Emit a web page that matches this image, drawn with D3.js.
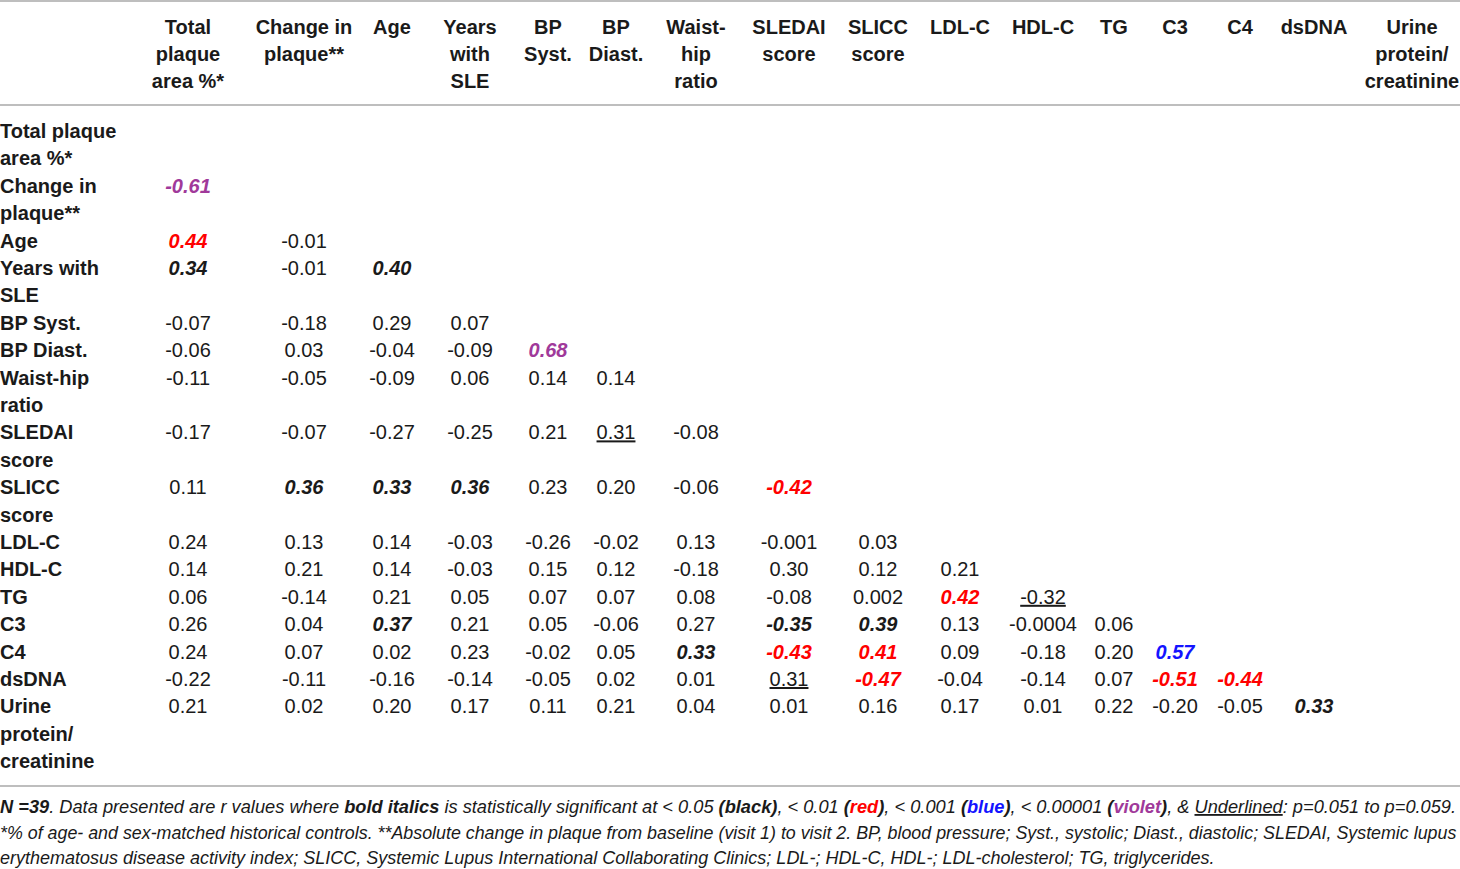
<!DOCTYPE html>
<html>
<head>
<meta charset="utf-8">
<script src="https://cdn.jsdelivr.net/npm/d3@7"></script>
<style>
  body { margin: 0; background: #fff; }
  svg text { font-family: "Liberation Sans", Arial, Helvetica, sans-serif; }
</style>
</head>
<body>
<div id="table"></div>
<script>
// column headers (each entry = lines of the header cell)
var colLabels = [
    ["Total", "plaque", "area %*"],
    ["Change in", "plaque**"],
    ["Age"],
    ["Years", "with", "SLE"],
    ["BP", "Syst."],
    ["BP", "Diast."],
    ["Waist-", "hip", "ratio"],
    ["SLEDAI", "score"],
    ["SLICC", "score"],
    ["LDL-C"],
    ["HDL-C"],
    ["TG"],
    ["C3"],
    ["C4"],
    ["dsDNA"],
    ["Urine", "protein/", "creatinine"]
];

var rowLabels = [
    ["Total plaque", "area %*"],
    ["Change in", "plaque**"],
    ["Age"],
    ["Years with", "SLE"],
    ["BP Syst."],
    ["BP Diast."],
    ["Waist-hip", "ratio"],
    ["SLEDAI", "score"],
    ["SLICC", "score"],
    ["LDL-C"],
    ["HDL-C"],
    ["TG"],
    ["C3"],
    ["C4"],
    ["dsDNA"],
    ["Urine", "protein/", "creatinine"]
];

// r values, lower triangle
var rValues = [
    [],
    ["-0.61"],
    ["0.44", "-0.01"],
    ["0.34", "-0.01", "0.40"],
    ["-0.07", "-0.18", "0.29", "0.07"],
    ["-0.06", "0.03", "-0.04", "-0.09", "0.68"],
    ["-0.11", "-0.05", "-0.09", "0.06", "0.14", "0.14"],
    ["-0.17", "-0.07", "-0.27", "-0.25", "0.21", "0.31", "-0.08"],
    ["0.11", "0.36", "0.33", "0.36", "0.23", "0.20", "-0.06", "-0.42"],
    ["0.24", "0.13", "0.14", "-0.03", "-0.26", "-0.02", "0.13", "-0.001", "0.03"],
    ["0.14", "0.21", "0.14", "-0.03", "0.15", "0.12", "-0.18", "0.30", "0.12", "0.21"],
    ["0.06", "-0.14", "0.21", "0.05", "0.07", "0.07", "0.08", "-0.08", "0.002", "0.42", "-0.32"],
    ["0.26", "0.04", "0.37", "0.21", "0.05", "-0.06", "0.27", "-0.35", "0.39", "0.13", "-0.0004", "0.06"],
    ["0.24", "0.07", "0.02", "0.23", "-0.02", "0.05", "0.33", "-0.43", "0.41", "0.09", "-0.18", "0.20", "0.57"],
    ["-0.22", "-0.11", "-0.16", "-0.14", "-0.05", "0.02", "0.01", "0.31", "-0.47", "-0.04", "-0.14", "0.07", "-0.51", "-0.44"],
    ["0.21", "0.02", "0.20", "0.17", "0.11", "0.21", "0.04", "0.01", "0.16", "0.17", "0.01", "0.22", "-0.20", "-0.05", "0.33"]
];

// significance: "" none, k p<0.05, r p<0.01, b p<0.001, v p<0.00001, u underlined (p=0.051-0.059)
var sigCodes = [
    [],
    ["v"],
    ["r", ""],
    ["k", "", "k"],
    ["", "", "", ""],
    ["", "", "", "", "v"],
    ["", "", "", "", "", ""],
    ["", "", "", "", "", "u", ""],
    ["", "k", "k", "k", "", "", "", "r"],
    ["", "", "", "", "", "", "", "", ""],
    ["", "", "", "", "", "", "", "", "", ""],
    ["", "", "", "", "", "", "", "", "", "r", "u"],
    ["", "", "k", "", "", "", "", "k", "k", "", "", ""],
    ["", "", "", "", "", "", "k", "r", "r", "", "", "", "b"],
    ["", "", "", "", "", "", "", "u", "r", "", "", "", "r", "r"],
    ["", "", "", "", "", "", "", "", "", "", "", "", "", "", "k"]
];

var footLines = [
    [["N =39", "bi"], [". Data presented are r values where ", "i"], ["bold italics", "bi"],
     [" is statistically significant at < 0.05 ", "i"], ["(black)", "bi"], [", < 0.01 ", "i"],
     ["(", "bi"], ["red", "bi", "#ff0000"], [")", "bi"], [", < 0.001 ", "i"],
     ["(", "bi"], ["blue", "bi", "#1414ff"], [")", "bi"], [", < 0.00001 ", "i"],
     ["(", "bi"], ["violet", "bi", "#a0399a"], [")", "bi"], [", & ", "i"],
     ["Underlined", "iu"], [": p=0.051 to p=0.059.", "i"]],
    [["*% of age- and sex-matched historical controls. **Absolute change in plaque from baseline (visit 1) to visit 2. BP, blood pressure; Syst., systolic; Diast., diastolic; SLEDAI, Systemic lupus", "i"]],
    [["erythematosus disease activity index; SLICC, Systemic Lupus International Collaborating Clinics; LDL-; HDL-C, HDL-; LDL-cholesterol; TG, triglycerides.", "i"]]
];

var WIDTH = 1460, HEIGHT = 869;
var LINE = 27.4;
var FONT = 20;
var sigColor = {"": "#1a1a1a", k: "#1a1a1a", r: "#ff0000", b: "#1414ff", v: "#a0399a", u: "#1a1a1a"};

// column centres of the layout
var colCenters = [188, 304, 392, 470, 548, 616, 696, 789, 878, 960, 1043, 1114, 1175, 1240, 1314, 1412];
var xScale = d3.scaleOrdinal().domain(d3.range(colLabels.length)).range(colCenters);

// each row starts after the lines used by the rows above
var rowStart = [];
var acc = 0;
rowLabels.forEach(function(r){ rowStart.push(acc); acc += r.length; });
var BODY_TOP = 131;
var yLine = d3.scaleLinear().domain([0, 1]).range([BODY_TOP, BODY_TOP + LINE]);

var svg = d3.select("#table").append("svg")
    .attr("width", WIDTH).attr("height", HEIGHT);

// rules
svg.selectAll("line.rule")
    .data([1, 105, 786])
    .enter().append("line")
    .attr("class", "rule")
    .attr("x1", 0).attr("x2", WIDTH)
    .attr("y1", function(d){return d}).attr("y2", function(d){return d})
    .attr("stroke", "#a8a8a8").attr("stroke-width", 1.6);

// header
var head = svg.append("g").attr("class", "header");
colLabels.forEach(function(lines, i){
    head.append("text")
        .attr("x", xScale(i))
        .attr("text-anchor", "middle")
        .attr("font-size", FONT).attr("font-weight", "bold").attr("fill", "#1a1a1a")
        .selectAll("tspan").data(lines).enter().append("tspan")
        .attr("x", xScale(i))
        .attr("y", function(d, j){ return 34 + j*27 })
        .text(function(d){return d});
});

// row labels
var body = svg.append("g").attr("class", "body");
rowLabels.forEach(function(lines, i){
    body.append("text")
        .attr("x", 0)
        .attr("font-size", FONT).attr("font-weight", "bold").attr("fill", "#1a1a1a")
        .selectAll("tspan").data(lines).enter().append("tspan")
        .attr("x", 0)
        .attr("y", function(d, j){ return yLine(rowStart[i] + j) + 7 })
        .text(function(d){return d});
});

// cells
var cells = [];
rValues.forEach(function(row, i){
    row.forEach(function(v, j){
        cells.push({row: i, col: j, value: v, sig: sigCodes[i][j]});
    });
});

body.selectAll("text.cell")
    .data(cells)
    .enter().append("text")
    .attr("class", "cell")
    .attr("x", function(d){return xScale(d.col)})
    .attr("y", function(d){return yLine(rowStart[d.row]) + 7})
    .attr("text-anchor", "middle")
    .attr("font-size", FONT)
    .attr("font-weight", function(d){return (d.sig && d.sig != "u") ? "bold" : "normal"})
    .attr("font-style", function(d){return (d.sig && d.sig != "u") ? "italic" : "normal"})
    .attr("text-decoration", function(d){return d.sig == "u" ? "underline" : null})
    .attr("fill", function(d){return sigColor[d.sig]})
    .text(function(d){return d.value});

// footnote, each line sized to the width it takes in the layout
var FOOT_WIDTHS = [1457, 1457, 1215];
var foot = svg.append("g").attr("class", "foot");
footLines.forEach(function(parts, i){
    var t = foot.append("text")
        .attr("x", 0)
        .attr("y", 813 + i*25.5)
        .attr("font-size", 18).attr("fill", "#1a1a1a");
    t.selectAll("tspan").data(parts).enter().append("tspan")
        .attr("font-style", "italic")
        .attr("font-weight", function(d){return d[1].indexOf("b") >= 0 ? "bold" : "normal"})
        .attr("text-decoration", function(d){return d[1].indexOf("u") >= 0 ? "underline" : null})
        .attr("fill", function(d){return d[2] || "#1a1a1a"})
        .text(function(d){return d[0]});
    var w = t.node().getComputedTextLength();
    if(w > 0) t.attr("font-size", 18 * FOOT_WIDTHS[i] / w);
});
</script>
</body>
</html>
